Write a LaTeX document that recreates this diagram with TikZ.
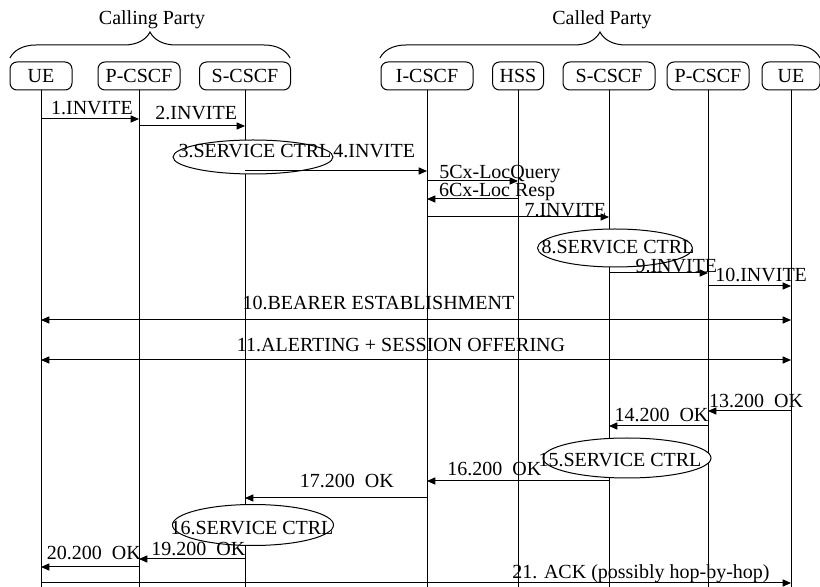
\documentclass[tikz,border=0pt]{standalone}
\usepackage{fontspec}
\setmainfont{Liberation Serif}
\usetikzlibrary{arrows.meta, decorations.pathreplacing, shapes.geometric}

\begin{document}
\begin{tikzpicture}[
            x=0.5pt, y=-0.5pt,
            font=\fontsize{10}{12}\selectfont,
            line width=0.5pt,
            caja/.style={draw, rounded corners=3.5pt, minimum height=14pt, inner sep=0pt},
            vida/.style={line width=0.5pt},
            flecha/.style={-{Triangle[length=4.2pt, width=3.6pt]}},
            doble/.style={{Triangle[length=4.2pt, width=3.6pt]}-{Triangle[length=4.2pt, width=3.6pt]}},
            etiq/.style={anchor=base, inner sep=0pt},
            ctrl/.style={draw, ellipse, fill=white, inner sep=0pt},
            llave/.style={decorate, decoration={brace, amplitude=13pt}}
        ]
        \useasboundingbox (0,0) rectangle (820,587);

        % Encabezados de grupo
        \node (calling) at (152,20) {Calling Party};
        \node (called)  at (602,20) {Called Party};
        \draw[llave] (10,58) -- (290,58);
        \draw[llave] (380,58) -- (820,58);

        % --- Entidades ---
        \node[caja, minimum width=31pt]   (ue1) at (41,76)  {UE};
        \node[caja, minimum width=41pt]   (pc1) at (139,76) {P-CSCF};
        \node[caja, minimum width=45.5pt] (sc1) at (245,76) {S-CSCF};
        \node[caja, minimum width=46pt]   (ic)  at (427,76) {I-CSCF};
        \node[caja, minimum width=25.5pt] (hss) at (518,76) {HSS};
        \node[caja, minimum width=46pt]   (sc2) at (609,76) {S-CSCF};
        \node[caja, minimum width=41pt]   (pc2) at (708,76) {P-CSCF};
        \node[caja, minimum width=29pt]   (ue2) at (791,76) {UE};

        % --- Lineas de vida ---
        \draw[vida] (ue1) -- (ue1 |- 0,587);
        \draw[vida] (pc1) -- (pc1 |- 0,587);
        \draw[vida] (sc1) -- (sc1 |- 0,587);
        \draw[vida] (ic)  -- (ic  |- 0,587);
        \draw[vida] (hss) -- (hss |- 0,587);
        \draw[vida] (sc2) -- (sc2 |- 0,587);
        \draw[vida] (pc2) -- (pc2 |- 0,587);
        \draw[vida] (ue2) -- (ue2 |- 0,587);

        % --- Control de servicio ---
        \node[ctrl, minimum width=80pt, minimum height=17pt]   (ctrl3)  at (253,157) {};
        \node (t3)  at (255,151) {3.SERVICE CTRL};
        \node[ctrl, minimum width=77.5pt, minimum height=19pt] (ctrl8)  at (615,248) {};
        \node (t8)  at (618,247) {8.SERVICE CTRL};
        \node[ctrl, minimum width=84pt, minimum height=20pt]   (ctrl15) at (627,458) {};
        \node (t15) at (620,460) {15.SERVICE CTRL};
        \node[ctrl, minimum width=80.5pt, minimum height=20.5pt] (ctrl16) at (253,525) {};
        \node (t16) at (252,528) {16.SERVICE CTRL};

        % --- INVITE ---
        \draw[flecha] (ue1 |- 0,119) -- (pc1 |- 0,119)
            node[etiq, pos=.52, yshift=2pt] {1.INVITE};
        \draw[flecha] (pc1 |- 0,126) -- (sc1 |- 0,126)
            node[etiq, pos=.54, yshift=3pt] {2.INVITE};
        \draw[flecha] (sc1 |- 0,171) -- (ic |- 0,171)
            node[etiq, pos=.71, yshift=6.5pt] {4.INVITE};
        \draw[flecha] (ic |- 0,181) -- (hss |- 0,181)
            node[etiq, pos=.80, yshift=1pt] {5Cx-LocQuery};
        \draw[flecha] (hss |- 0,199) -- (ic |- 0,199)
            node[etiq, pos=.23, yshift=1pt] {6Cx-Loc Resp};
        \draw[flecha] (ic |- 0,217) -- (sc2 |- 0,217)
            node[etiq, pos=.76, yshift=0pt] {7.INVITE};
        \draw[flecha] (sc2 |- 0,273) -- (pc2 |- 0,273)
            node[etiq, pos=.68, yshift=0pt] {9.INVITE};
        \draw[flecha] (pc2 |- 0,286) -- (ue2 |- 0,286)
            node[etiq, pos=.64, yshift=2pt] {10.INVITE};

        % --- Portadora y aviso ---
        \draw[doble] (ue1 |- 0,320) -- (ue2 |- 0,320)
            node[etiq, pos=.45, yshift=5pt] {10.BEARER ESTABLISHMENT};
        \draw[doble] (ue1 |- 0,360) -- (ue2 |- 0,360)
            node[etiq, pos=.48, yshift=4pt] {11.ALERTING + SESSION OFFERING};

        % --- 200 OK ---
        \draw[flecha] (ue2 |- 0,411) -- (pc2 |- 0,411)
            node[etiq, pos=.42, yshift=1.5pt] {13.200\ \ OK};
        \draw[flecha] (pc2 |- 0,426) -- (sc2 |- 0,426)
            node[etiq, pos=.47, yshift=2pt] {14.200\ \ OK};
        \draw[flecha] (sc2 |- 0,481) -- (ic |- 0,481)
            node[etiq, pos=.63, yshift=2.5pt] {16.200\ \ OK};
        \draw[flecha] (ic |- 0,498) -- (sc1 |- 0,498)
            node[etiq, pos=.44, yshift=5pt] {17.200\ \ OK};
        \draw[flecha] (sc1 |- 0,559) -- (pc1 |- 0,559)
            node[etiq, pos=.44, yshift=1.5pt] {19.200\ \ OK};
        \draw[flecha] (pc1 |- 0,567) -- (ue1 |- 0,567)
            node[etiq, pos=.46, yshift=3.5pt] {20.200\ \ OK};

        % --- ACK ---
        \draw[flecha] (ue1 |- 0,583) -- (ue2 |- 0,583)
            node[etiq, pos=.80, yshift=2pt] {21. ACK (possibly hop-by-hop)};

        \end{tikzpicture}
\end{document}
